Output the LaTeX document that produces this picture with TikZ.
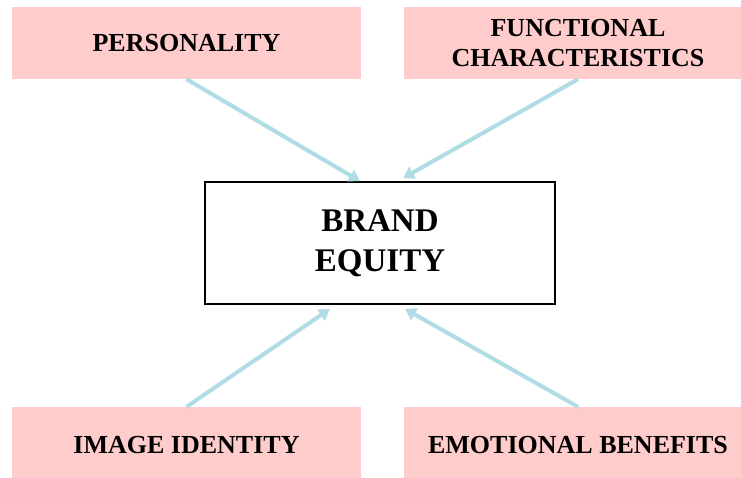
\documentclass[tikz,border=0pt]{standalone}
\usepackage{fontspec}
\setmainfont{Liberation Serif}
\usetikzlibrary{arrows.meta,calc}
\definecolor{boxpink}{HTML}{FFCCCC}
\definecolor{linkblue}{HTML}{B0DCE6}
\begin{document}
\begin{tikzpicture}[x=1pt,y=-1pt,
  factor/.style={fill=boxpink, draw=none, minimum width=349pt, minimum height=72pt,
    inner sep=0pt, align=center, font=\fontsize{26}{30}\selectfont\bfseries},
  core/.style={draw=black, line width=1.8pt, fill=white, minimum width=350pt, minimum height=122pt,
    inner sep=0pt, align=center, font=\fontsize{33}{40}\selectfont\bfseries},
  link/.style={draw=linkblue, line width=4pt, -{Triangle[length=11pt,width=13pt]}}]
\useasboundingbox (0,0) rectangle (741,477);
\fill[white] (0,0) rectangle (741,477);
% four contributing factors
\node[factor] (pers) at (186.5,43) {PERSONALITY};
\node[factor] (func) at (578,43) {FUNCTIONAL\\CHARACTERISTICS};
\node[factor, minimum height=76pt] (img) at (186.5,445) {IMAGE IDENTITY};
\node[factor, minimum height=76pt] (emo) at (578,445) {EMOTIONAL BENEFITS};
% central concept
\node[core] (be) at (380,243) {BRAND\\EQUITY};
% links into the central box
\draw[link] (pers.south) -- ($(be.north)+(-20,0)$);
\draw[link] (func.south) -- ($(be.north)+(23,-3)$);
\draw[link] (img.north) -- ($(be.south)+(-50,4)$);
\draw[link] (emo.north) -- ($(be.south)+(25,4)$);
\end{tikzpicture}
\end{document}
